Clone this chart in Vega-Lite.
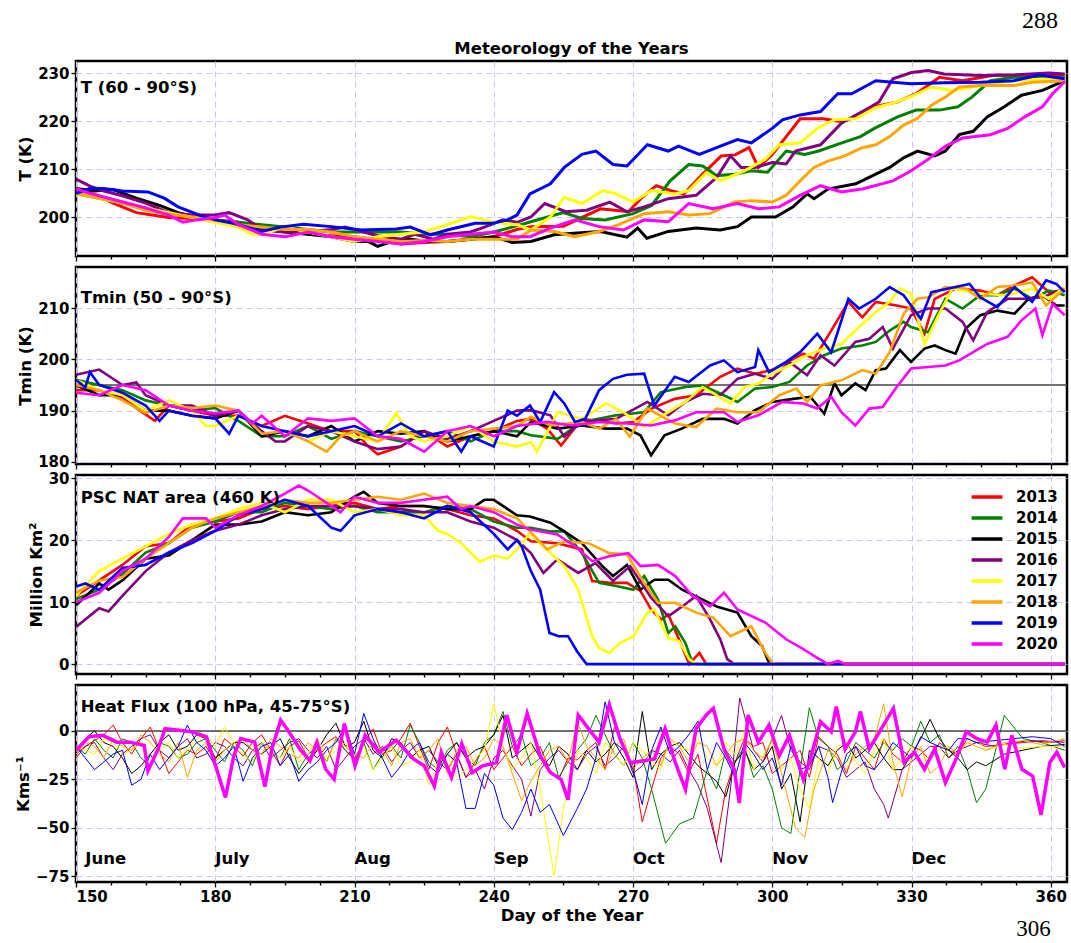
{
"$schema":"https://vega.github.io/schema/vega-lite/v6.json",
"padding":{"left":14,"top":9,"right":2,"bottom":0},
"spacing":11,
"bounds":"flush",
"title":{"text":"288","anchor":"end","font":"Liberation Serif","fontSize":24,"fontWeight":"normal","color":"#000","offset":6,"dx":-11},
"config":{
 "font":"DejaVu Sans",
 "view":{"stroke":"#000","strokeWidth":2.5},
 "axis":{"labelFont":"DejaVu Sans","labelFontWeight":"bold","labelFontSize":15,"labelColor":"#000","titleFont":"DejaVu Sans","titleFontWeight":"bold","titleFontSize":16.5,"titleColor":"#000","tickColor":"#000","tickWidth":1.3,"tickSize":5,"domain":false,"grid":true,"gridColor":"#c8c8ee","gridDash":[6,4],"gridWidth":1,"labelPadding":2,"titlePadding":4}
},
"resolve":{"legend":{"color":"independent"}},
"datasets":{
"t":[
{"d":150,"y":2013,"v":206},{"d":155,"y":2013,"v":204.5},{"d":158,"y":2013,"v":203},{"d":163,"y":2013,"v":201},{"d":170,"y":2013,"v":200},{"d":175,"y":2013,"v":199.8},{"d":180,"y":2013,"v":199.5},{"d":185,"y":2013,"v":199},{"d":190,"y":2013,"v":198},{"d":195,"y":2013,"v":197.5},{"d":200,"y":2013,"v":196.5},{"d":205,"y":2013,"v":196.2},{"d":210,"y":2013,"v":196},{"d":215,"y":2013,"v":195.3},{"d":220,"y":2013,"v":194.5},{"d":225,"y":2013,"v":194.8},{"d":230,"y":2013,"v":195},{"d":235,"y":2013,"v":195.5},{"d":240,"y":2013,"v":196},{"d":245,"y":2013,"v":197.5},{"d":248,"y":2013,"v":198.1},{"d":255,"y":2013,"v":198.2},{"d":263,"y":2013,"v":201.8},{"d":269,"y":2013,"v":201.2},{"d":272,"y":2013,"v":204.2},{"d":275,"y":2013,"v":206.6},{"d":278,"y":2013,"v":205.6},{"d":281,"y":2013,"v":204.9},{"d":285,"y":2013,"v":209},{"d":289,"y":2013,"v":212.8},{"d":292,"y":2013,"v":213},{"d":295,"y":2013,"v":214.5},{"d":297,"y":2013,"v":210.4},{"d":300,"y":2013,"v":213.1},{"d":303,"y":2013,"v":216.8},{"d":306,"y":2013,"v":220.5},{"d":311,"y":2013,"v":220.5},{"d":315,"y":2013,"v":219.9},{"d":319,"y":2013,"v":221.3},{"d":322,"y":2013,"v":223},{"d":327,"y":2013,"v":224},{"d":331,"y":2013,"v":225.7},{"d":336,"y":2013,"v":229.1},{"d":341,"y":2013,"v":228.4},{"d":348,"y":2013,"v":229.6},{"d":356,"y":2013,"v":229.5},{"d":363,"y":2013,"v":229.6},
{"d":150,"y":2014,"v":205},{"d":155,"y":2014,"v":204},{"d":160,"y":2014,"v":203},{"d":165,"y":2014,"v":202},{"d":170,"y":2014,"v":201},{"d":175,"y":2014,"v":200.3},{"d":180,"y":2014,"v":199.5},{"d":185,"y":2014,"v":199},{"d":190,"y":2014,"v":198.5},{"d":195,"y":2014,"v":198},{"d":200,"y":2014,"v":197.5},{"d":205,"y":2014,"v":197},{"d":210,"y":2014,"v":197},{"d":215,"y":2014,"v":197},{"d":220,"y":2014,"v":197},{"d":225,"y":2014,"v":196.5},{"d":230,"y":2014,"v":196.5},{"d":235,"y":2014,"v":196},{"d":240,"y":2014,"v":197},{"d":244,"y":2014,"v":198},{"d":248,"y":2014,"v":199.1},{"d":255,"y":2014,"v":201},{"d":259,"y":2014,"v":199.8},{"d":264,"y":2014,"v":199.5},{"d":270,"y":2014,"v":200.8},{"d":274,"y":2014,"v":202.5},{"d":278,"y":2014,"v":207.6},{"d":282,"y":2014,"v":211},{"d":285,"y":2014,"v":210.7},{"d":288,"y":2014,"v":208.7},{"d":292,"y":2014,"v":209},{"d":295.5,"y":2014,"v":209.7},{"d":299,"y":2014,"v":209.4},{"d":303,"y":2014,"v":213.8},{"d":307,"y":2014,"v":213.1},{"d":310,"y":2014,"v":213.8},{"d":315,"y":2014,"v":215.5},{"d":319,"y":2014,"v":216.8},{"d":322,"y":2014,"v":218.5},{"d":327,"y":2014,"v":220.9},{"d":331,"y":2014,"v":222.3},{"d":336,"y":2014,"v":222.3},{"d":340,"y":2014,"v":223},{"d":343,"y":2014,"v":225},{"d":347,"y":2014,"v":228.4},{"d":352,"y":2014,"v":229.1},{"d":360,"y":2014,"v":229.1},{"d":363,"y":2014,"v":229.1},
{"d":150,"y":2015,"v":206},{"d":154,"y":2015,"v":205.5},{"d":158,"y":2015,"v":205.8},{"d":163,"y":2015,"v":204},{"d":168,"y":2015,"v":202.5},{"d":172,"y":2015,"v":201},{"d":176,"y":2015,"v":200},{"d":180,"y":2015,"v":199.5},{"d":185,"y":2015,"v":198.5},{"d":190,"y":2015,"v":197.5},{"d":195,"y":2015,"v":197},{"d":200,"y":2015,"v":196.5},{"d":205,"y":2015,"v":196},{"d":210,"y":2015,"v":195},{"d":213,"y":2015,"v":195},{"d":215,"y":2015,"v":194},{"d":218,"y":2015,"v":195},{"d":222,"y":2015,"v":195.5},{"d":226,"y":2015,"v":195},{"d":230,"y":2015,"v":195},{"d":235,"y":2015,"v":195.5},{"d":240,"y":2015,"v":196},{"d":244,"y":2015,"v":194.8},{"d":248,"y":2015,"v":195},{"d":253,"y":2015,"v":196.4},{"d":258,"y":2015,"v":196.8},{"d":263,"y":2015,"v":197.1},{"d":268.7,"y":2015,"v":195.9},{"d":271,"y":2015,"v":197.8},{"d":273,"y":2015,"v":195.7},{"d":277.6,"y":2015,"v":197.1},{"d":283.6,"y":2015,"v":197.8},{"d":288.8,"y":2015,"v":197.4},{"d":292.5,"y":2015,"v":198.1},{"d":295.5,"y":2015,"v":200.1},{"d":300.7,"y":2015,"v":200.1},{"d":304.5,"y":2015,"v":202.2},{"d":307.5,"y":2015,"v":204.9},{"d":309,"y":2015,"v":203.9},{"d":312,"y":2015,"v":205.9},{"d":318,"y":2015,"v":207},{"d":322.3,"y":2015,"v":209},{"d":325.3,"y":2015,"v":210.4},{"d":328.3,"y":2015,"v":212.4},{"d":331.3,"y":2015,"v":213.8},{"d":335,"y":2015,"v":212.8},{"d":337.3,"y":2015,"v":213.8},{"d":340.3,"y":2015,"v":217.2},{"d":343.3,"y":2015,"v":217.9},{"d":346.3,"y":2015,"v":220.9},{"d":350,"y":2015,"v":223},{"d":353.7,"y":2015,"v":225.4},{"d":358.2,"y":2015,"v":226.4},{"d":363,"y":2015,"v":228.4},
{"d":150,"y":2016,"v":208},{"d":153,"y":2016,"v":206.5},{"d":156,"y":2016,"v":205.5},{"d":160,"y":2016,"v":204.5},{"d":165,"y":2016,"v":203},{"d":170,"y":2016,"v":201},{"d":175,"y":2016,"v":200.5},{"d":180,"y":2016,"v":200.5},{"d":183,"y":2016,"v":201},{"d":187,"y":2016,"v":199.5},{"d":190,"y":2016,"v":197.5},{"d":195,"y":2016,"v":197},{"d":200,"y":2016,"v":197},{"d":205,"y":2016,"v":197.5},{"d":208,"y":2016,"v":198},{"d":210,"y":2016,"v":197.5},{"d":215,"y":2016,"v":196.2},{"d":220,"y":2016,"v":195.5},{"d":223,"y":2016,"v":196.5},{"d":227,"y":2016,"v":195.5},{"d":230,"y":2016,"v":196.5},{"d":235,"y":2016,"v":197},{"d":238,"y":2016,"v":198},{"d":242,"y":2016,"v":199.5},{"d":245,"y":2016,"v":199},{"d":248,"y":2016,"v":200.1},{"d":251,"y":2016,"v":202.9},{"d":255.5,"y":2016,"v":201.2},{"d":260,"y":2016,"v":201.5},{"d":265,"y":2016,"v":203.2},{"d":268.7,"y":2016,"v":201.2},{"d":272.4,"y":2016,"v":202.2},{"d":277.6,"y":2016,"v":203.9},{"d":283.6,"y":2016,"v":204.6},{"d":288,"y":2016,"v":208.3},{"d":291,"y":2016,"v":212.8},{"d":293.3,"y":2016,"v":210.4},{"d":296.3,"y":2016,"v":210.4},{"d":300,"y":2016,"v":211.4},{"d":303,"y":2016,"v":211.1},{"d":305,"y":2016,"v":213.8},{"d":310.4,"y":2016,"v":215.1},{"d":314.9,"y":2016,"v":219.6},{"d":319.4,"y":2016,"v":222},{"d":323,"y":2016,"v":224},{"d":326,"y":2016,"v":228.8},{"d":330,"y":2016,"v":230.1},{"d":333.6,"y":2016,"v":230.5},{"d":337,"y":2016,"v":229.8},{"d":344.8,"y":2016,"v":229.5},{"d":352,"y":2016,"v":229.6},{"d":359.6,"y":2016,"v":230},{"d":363,"y":2016,"v":229.8},
{"d":150,"y":2017,"v":205},{"d":155,"y":2017,"v":204},{"d":160,"y":2017,"v":203},{"d":165,"y":2017,"v":202},{"d":170,"y":2017,"v":201},{"d":175,"y":2017,"v":200},{"d":180,"y":2017,"v":199},{"d":185,"y":2017,"v":198},{"d":188,"y":2017,"v":196.5},{"d":190,"y":2017,"v":196.5},{"d":195,"y":2017,"v":198},{"d":200,"y":2017,"v":197},{"d":205,"y":2017,"v":196},{"d":210,"y":2017,"v":195},{"d":215,"y":2017,"v":196},{"d":220,"y":2017,"v":196.5},{"d":225,"y":2017,"v":197},{"d":230,"y":2017,"v":198.5},{"d":233,"y":2017,"v":199.5},{"d":235,"y":2017,"v":200.2},{"d":238,"y":2017,"v":199.5},{"d":240,"y":2017,"v":199},{"d":245,"y":2017,"v":198.5},{"d":248,"y":2017,"v":197.4},{"d":252.2,"y":2017,"v":200.1},{"d":255.2,"y":2017,"v":204.2},{"d":259,"y":2017,"v":202.9},{"d":263.5,"y":2017,"v":205.6},{"d":266.4,"y":2017,"v":204.9},{"d":270,"y":2017,"v":203.2},{"d":274,"y":2017,"v":205.6},{"d":279,"y":2017,"v":204.9},{"d":282,"y":2017,"v":205.6},{"d":285.8,"y":2017,"v":209.3},{"d":288.8,"y":2017,"v":207.6},{"d":294,"y":2017,"v":209.7},{"d":298.5,"y":2017,"v":212.1},{"d":301.5,"y":2017,"v":215.1},{"d":306,"y":2017,"v":215.5},{"d":309.7,"y":2017,"v":218.5},{"d":313.4,"y":2017,"v":220.3},{"d":317.9,"y":2017,"v":220.5},{"d":322.3,"y":2017,"v":222.8},{"d":326.8,"y":2017,"v":224},{"d":330.6,"y":2017,"v":225.4},{"d":334.3,"y":2017,"v":227.1},{"d":338.8,"y":2017,"v":226.4},{"d":344.8,"y":2017,"v":227.4},{"d":352,"y":2017,"v":228.4},{"d":359.6,"y":2017,"v":228.8},{"d":363,"y":2017,"v":228.9},
{"d":150,"y":2018,"v":205},{"d":155,"y":2018,"v":204},{"d":160,"y":2018,"v":203},{"d":165,"y":2018,"v":201.5},{"d":168,"y":2018,"v":201},{"d":172,"y":2018,"v":200.5},{"d":176,"y":2018,"v":200},{"d":180,"y":2018,"v":199.5},{"d":185,"y":2018,"v":198.5},{"d":190,"y":2018,"v":198},{"d":195,"y":2018,"v":197.5},{"d":200,"y":2018,"v":197.5},{"d":205,"y":2018,"v":197},{"d":210,"y":2018,"v":196},{"d":215,"y":2018,"v":195.5},{"d":220,"y":2018,"v":195},{"d":225,"y":2018,"v":195.2},{"d":230,"y":2018,"v":195},{"d":235,"y":2018,"v":195.5},{"d":240,"y":2018,"v":195.5},{"d":245,"y":2018,"v":195.5},{"d":248,"y":2018,"v":197.4},{"d":253,"y":2018,"v":197.1},{"d":257.5,"y":2018,"v":196},{"d":262.7,"y":2018,"v":197.1},{"d":267.2,"y":2018,"v":198.6},{"d":272.4,"y":2018,"v":200.8},{"d":277.6,"y":2018,"v":201.2},{"d":282,"y":2018,"v":200.5},{"d":286.6,"y":2018,"v":200.8},{"d":291.8,"y":2018,"v":203.2},{"d":295.5,"y":2018,"v":203.5},{"d":300,"y":2018,"v":203.2},{"d":303,"y":2018,"v":204.6},{"d":306.7,"y":2018,"v":208.3},{"d":309,"y":2018,"v":210.4},{"d":312,"y":2018,"v":211.7},{"d":315.6,"y":2018,"v":212.8},{"d":319.4,"y":2018,"v":214.5},{"d":322.3,"y":2018,"v":215.1},{"d":325.3,"y":2018,"v":216.8},{"d":328.3,"y":2018,"v":219.2},{"d":331.3,"y":2018,"v":220.6},{"d":334.3,"y":2018,"v":223.3},{"d":337.3,"y":2018,"v":225},{"d":340.3,"y":2018,"v":227.1},{"d":344.8,"y":2018,"v":227.4},{"d":352,"y":2018,"v":227.4},{"d":356,"y":2018,"v":228.1},{"d":363,"y":2018,"v":228.4},
{"d":150,"y":2019,"v":205},{"d":153,"y":2019,"v":206},{"d":156,"y":2019,"v":206},{"d":160,"y":2019,"v":205.5},{"d":165.5,"y":2019,"v":205.3},{"d":169,"y":2019,"v":204},{"d":172,"y":2019,"v":202.2},{"d":176.6,"y":2019,"v":200.5},{"d":180,"y":2019,"v":199.5},{"d":184,"y":2019,"v":198.8},{"d":190,"y":2019,"v":197.1},{"d":194,"y":2019,"v":198},{"d":199,"y":2019,"v":198.6},{"d":205,"y":2019,"v":198.1},{"d":211.6,"y":2019,"v":197.4},{"d":215,"y":2019,"v":197.5},{"d":219,"y":2019,"v":197.6},{"d":222,"y":2019,"v":198},{"d":226.4,"y":2019,"v":196.4},{"d":230,"y":2019,"v":197.4},{"d":236,"y":2019,"v":198.8},{"d":239.8,"y":2019,"v":198.8},{"d":243,"y":2019,"v":199.5},{"d":245,"y":2019,"v":200.5},{"d":247.8,"y":2019,"v":204.9},{"d":252.2,"y":2019,"v":207},{"d":255.2,"y":2019,"v":210.4},{"d":259,"y":2019,"v":213.1},{"d":262,"y":2019,"v":213.8},{"d":265.7,"y":2019,"v":211},{"d":268.7,"y":2019,"v":210.7},{"d":273.1,"y":2019,"v":215.1},{"d":277.6,"y":2019,"v":213.8},{"d":279.8,"y":2019,"v":214.8},{"d":284.3,"y":2019,"v":213.1},{"d":288,"y":2019,"v":214.5},{"d":292.5,"y":2019,"v":216.2},{"d":295.5,"y":2019,"v":215.5},{"d":300,"y":2019,"v":218.5},{"d":302.2,"y":2019,"v":220.3},{"d":306,"y":2019,"v":221.3},{"d":310.4,"y":2019,"v":222},{"d":314.1,"y":2019,"v":225.7},{"d":317.1,"y":2019,"v":225.7},{"d":322.3,"y":2019,"v":228.4},{"d":326,"y":2019,"v":228.1},{"d":329.9,"y":2019,"v":227.8},{"d":337,"y":2019,"v":228},{"d":344.8,"y":2019,"v":228.1},{"d":352,"y":2019,"v":228.4},{"d":357.5,"y":2019,"v":229.6},{"d":363,"y":2019,"v":228.8},
{"d":150,"y":2020,"v":206},{"d":153,"y":2020,"v":205},{"d":157,"y":2020,"v":204},{"d":161,"y":2020,"v":203},{"d":165,"y":2020,"v":202},{"d":170,"y":2020,"v":200.5},{"d":173,"y":2020,"v":199},{"d":176,"y":2020,"v":199.5},{"d":180,"y":2020,"v":200},{"d":182,"y":2020,"v":200.5},{"d":185,"y":2020,"v":198.5},{"d":190,"y":2020,"v":196.5},{"d":195,"y":2020,"v":196},{"d":200,"y":2020,"v":197},{"d":205,"y":2020,"v":196},{"d":210,"y":2020,"v":195.5},{"d":215,"y":2020,"v":195},{"d":220,"y":2020,"v":194.5},{"d":225,"y":2020,"v":195},{"d":230,"y":2020,"v":196},{"d":235,"y":2020,"v":196.5},{"d":240,"y":2020,"v":197},{"d":244,"y":2020,"v":196},{"d":247.8,"y":2020,"v":196},{"d":252.2,"y":2020,"v":197.8},{"d":257.5,"y":2020,"v":199.5},{"d":262.7,"y":2020,"v":198.1},{"d":267.9,"y":2020,"v":197.4},{"d":272.4,"y":2020,"v":199.5},{"d":277.6,"y":2020,"v":199.1},{"d":282,"y":2020,"v":202.9},{"d":287.2,"y":2020,"v":201.8},{"d":292.5,"y":2020,"v":202.9},{"d":297,"y":2020,"v":201.8},{"d":301.5,"y":2020,"v":202.2},{"d":306,"y":2020,"v":204.6},{"d":310.4,"y":2020,"v":206.6},{"d":314.9,"y":2020,"v":205.3},{"d":319.4,"y":2020,"v":205.9},{"d":326,"y":2020,"v":207.6},{"d":329.9,"y":2020,"v":209.7},{"d":333.6,"y":2020,"v":212.1},{"d":337.3,"y":2020,"v":214.8},{"d":341,"y":2020,"v":216.5},{"d":347,"y":2020,"v":217.2},{"d":350.7,"y":2020,"v":218.5},{"d":354.4,"y":2020,"v":220.9},{"d":358.2,"y":2020,"v":223},{"d":360.4,"y":2020,"v":225.7},{"d":363,"y":2020,"v":228.2}
],
"tmin":[
{"d":150,"y":2013,"v":194},{"d":155,"y":2013,"v":194},{"d":160,"y":2013,"v":192.5},{"d":163,"y":2013,"v":190.5},{"d":167,"y":2013,"v":188},{"d":170,"y":2013,"v":191},{"d":175,"y":2013,"v":190},{"d":180,"y":2013,"v":189},{"d":185,"y":2013,"v":189},{"d":190,"y":2013,"v":187},{"d":195,"y":2013,"v":189},{"d":200,"y":2013,"v":187.5},{"d":205,"y":2013,"v":186},{"d":210,"y":2013,"v":186},{"d":213,"y":2013,"v":183},{"d":215,"y":2013,"v":181.5},{"d":220,"y":2013,"v":183},{"d":225,"y":2013,"v":186},{"d":230,"y":2013,"v":183},{"d":235,"y":2013,"v":185},{"d":240,"y":2013,"v":186},{"d":245,"y":2013,"v":188},{"d":248,"y":2013,"v":188.4},{"d":251.5,"y":2013,"v":186.5},{"d":254.5,"y":2013,"v":183.2},{"d":259,"y":2013,"v":188.4},{"d":266.4,"y":2013,"v":187.5},{"d":270,"y":2013,"v":187.8},{"d":274,"y":2013,"v":190.4},{"d":279,"y":2013,"v":192.3},{"d":283.6,"y":2013,"v":193},{"d":288.8,"y":2013,"v":196.6},{"d":292.5,"y":2013,"v":198.2},{"d":296.3,"y":2013,"v":197.2},{"d":300,"y":2013,"v":197.9},{"d":306.7,"y":2013,"v":201.1},{"d":309,"y":2013,"v":200.1},{"d":312.7,"y":2013,"v":205.6},{"d":316.4,"y":2013,"v":211.2},{"d":319.4,"y":2013,"v":208.2},{"d":322.3,"y":2013,"v":211.2},{"d":326.8,"y":2013,"v":210.5},{"d":329.9,"y":2013,"v":209.9},{"d":332.8,"y":2013,"v":205},{"d":335,"y":2013,"v":211.8},{"d":339.5,"y":2013,"v":213.8},{"d":344.8,"y":2013,"v":213.4},{"d":348.5,"y":2013,"v":212.5},{"d":352.2,"y":2013,"v":214.4},{"d":356,"y":2013,"v":216},{"d":359.6,"y":2013,"v":213.1},{"d":363,"y":2013,"v":213.4},
{"d":150,"y":2014,"v":196},{"d":155,"y":2014,"v":195},{"d":160,"y":2014,"v":194},{"d":165,"y":2014,"v":192},{"d":170,"y":2014,"v":191},{"d":175,"y":2014,"v":190},{"d":180,"y":2014,"v":190.5},{"d":185,"y":2014,"v":188},{"d":190,"y":2014,"v":185},{"d":195,"y":2014,"v":185},{"d":200,"y":2014,"v":187},{"d":205,"y":2014,"v":184.5},{"d":210,"y":2014,"v":186},{"d":215,"y":2014,"v":185},{"d":220,"y":2014,"v":184},{"d":225,"y":2014,"v":185},{"d":230,"y":2014,"v":186},{"d":235,"y":2014,"v":184},{"d":240,"y":2014,"v":186},{"d":245,"y":2014,"v":186},{"d":248,"y":2014,"v":185.2},{"d":253.8,"y":2014,"v":184.5},{"d":259,"y":2014,"v":187.8},{"d":266.4,"y":2014,"v":189.1},{"d":272.4,"y":2014,"v":189.7},{"d":276,"y":2014,"v":193.6},{"d":281.3,"y":2014,"v":194.6},{"d":285,"y":2014,"v":194.9},{"d":289.6,"y":2014,"v":193},{"d":292.5,"y":2014,"v":191.7},{"d":296.3,"y":2014,"v":194.3},{"d":300,"y":2014,"v":194.6},{"d":303.7,"y":2014,"v":195.6},{"d":307.5,"y":2014,"v":198.8},{"d":311.2,"y":2014,"v":200.8},{"d":314.9,"y":2014,"v":202.1},{"d":319.4,"y":2014,"v":202.7},{"d":322.3,"y":2014,"v":203.4},{"d":325.3,"y":2014,"v":205.6},{"d":328.3,"y":2014,"v":207.3},{"d":329.9,"y":2014,"v":206.3},{"d":333.6,"y":2014,"v":205.3},{"d":337.3,"y":2014,"v":211.8},{"d":341,"y":2014,"v":209.9},{"d":344.8,"y":2014,"v":212.5},{"d":348.5,"y":2014,"v":212.5},{"d":352.2,"y":2014,"v":213.8},{"d":356,"y":2014,"v":211.8},{"d":359.6,"y":2014,"v":213.4},{"d":363,"y":2014,"v":212.5},
{"d":150,"y":2015,"v":195},{"d":155,"y":2015,"v":193},{"d":160,"y":2015,"v":193},{"d":165,"y":2015,"v":190},{"d":170,"y":2015,"v":190},{"d":175,"y":2015,"v":189},{"d":180,"y":2015,"v":188.5},{"d":185,"y":2015,"v":190},{"d":190,"y":2015,"v":185},{"d":195,"y":2015,"v":186},{"d":200,"y":2015,"v":185},{"d":205,"y":2015,"v":187},{"d":210,"y":2015,"v":184},{"d":215,"y":2015,"v":186},{"d":220,"y":2015,"v":185.5},{"d":225,"y":2015,"v":186},{"d":230,"y":2015,"v":184},{"d":235,"y":2015,"v":185},{"d":240,"y":2015,"v":186},{"d":245,"y":2015,"v":185},{"d":248,"y":2015,"v":187.8},{"d":253.8,"y":2015,"v":186.5},{"d":259,"y":2015,"v":187.1},{"d":264.2,"y":2015,"v":186.5},{"d":268.7,"y":2015,"v":186.5},{"d":271.6,"y":2015,"v":185.2},{"d":273.9,"y":2015,"v":181.3},{"d":276.8,"y":2015,"v":185.2},{"d":280.5,"y":2015,"v":186.5},{"d":285,"y":2015,"v":188.4},{"d":289.6,"y":2015,"v":188.4},{"d":292.5,"y":2015,"v":187.5},{"d":296.3,"y":2015,"v":190.1},{"d":300,"y":2015,"v":191.7},{"d":304.5,"y":2015,"v":192.3},{"d":308.2,"y":2015,"v":192.7},{"d":311.2,"y":2015,"v":189.4},{"d":313.4,"y":2015,"v":195.3},{"d":314.9,"y":2015,"v":193},{"d":317.9,"y":2015,"v":195.3},{"d":320.1,"y":2015,"v":194},{"d":322.3,"y":2015,"v":197.9},{"d":324.5,"y":2015,"v":198.2},{"d":327.5,"y":2015,"v":201.8},{"d":329.9,"y":2015,"v":199.5},{"d":332.8,"y":2015,"v":202.1},{"d":335,"y":2015,"v":202.7},{"d":337.3,"y":2015,"v":201.8},{"d":339.5,"y":2015,"v":201.1},{"d":341.7,"y":2015,"v":206},{"d":344.8,"y":2015,"v":208.6},{"d":348.5,"y":2015,"v":209.5},{"d":352.2,"y":2015,"v":208.9},{"d":355.2,"y":2015,"v":211.8},{"d":358.2,"y":2015,"v":212.5},{"d":361.2,"y":2015,"v":210.5},{"d":363,"y":2015,"v":210.5},
{"d":150,"y":2016,"v":197},{"d":155,"y":2016,"v":198},{"d":160,"y":2016,"v":195},{"d":163,"y":2016,"v":195.5},{"d":165,"y":2016,"v":193},{"d":170,"y":2016,"v":191},{"d":175,"y":2016,"v":191},{"d":180,"y":2016,"v":189},{"d":185,"y":2016,"v":190},{"d":190,"y":2016,"v":186},{"d":193,"y":2016,"v":184},{"d":195,"y":2016,"v":184},{"d":200,"y":2016,"v":187},{"d":205,"y":2016,"v":186},{"d":210,"y":2016,"v":184},{"d":215,"y":2016,"v":182.5},{"d":220,"y":2016,"v":183},{"d":225,"y":2016,"v":186},{"d":230,"y":2016,"v":184.5},{"d":235,"y":2016,"v":186},{"d":240,"y":2016,"v":188},{"d":245,"y":2016,"v":190},{"d":248,"y":2016,"v":190.1},{"d":252.2,"y":2016,"v":189.1},{"d":255.2,"y":2016,"v":184.9},{"d":259,"y":2016,"v":187.8},{"d":266.4,"y":2016,"v":188.4},{"d":273.1,"y":2016,"v":191.7},{"d":277.6,"y":2016,"v":189.1},{"d":281.3,"y":2016,"v":191.7},{"d":285,"y":2016,"v":193.3},{"d":288.8,"y":2016,"v":193},{"d":292.5,"y":2016,"v":196.2},{"d":296.3,"y":2016,"v":197.2},{"d":300,"y":2016,"v":196.2},{"d":303.7,"y":2016,"v":199.5},{"d":307.5,"y":2016,"v":196.9},{"d":310.4,"y":2016,"v":200.8},{"d":313.4,"y":2016,"v":198.8},{"d":317.9,"y":2016,"v":203.4},{"d":320.9,"y":2016,"v":204},{"d":323.8,"y":2016,"v":206.3},{"d":326,"y":2016,"v":202.1},{"d":329.9,"y":2016,"v":208.6},{"d":333.6,"y":2016,"v":209.9},{"d":337.3,"y":2016,"v":209.9},{"d":341,"y":2016,"v":207.3},{"d":343.3,"y":2016,"v":203.7},{"d":346.3,"y":2016,"v":209.2},{"d":350.7,"y":2016,"v":211.8},{"d":354.4,"y":2016,"v":211.8},{"d":358.2,"y":2016,"v":212.1},{"d":363,"y":2016,"v":213.8},
{"d":150,"y":2017,"v":196},{"d":155,"y":2017,"v":194},{"d":160,"y":2017,"v":193},{"d":165,"y":2017,"v":190},{"d":170,"y":2017,"v":192},{"d":175,"y":2017,"v":190},{"d":178,"y":2017,"v":187},{"d":180,"y":2017,"v":187},{"d":185,"y":2017,"v":189},{"d":190,"y":2017,"v":187},{"d":195,"y":2017,"v":186},{"d":200,"y":2017,"v":184},{"d":205,"y":2017,"v":186},{"d":210,"y":2017,"v":185},{"d":215,"y":2017,"v":184},{"d":219,"y":2017,"v":189.5},{"d":222,"y":2017,"v":185},{"d":225,"y":2017,"v":184},{"d":230,"y":2017,"v":185},{"d":235,"y":2017,"v":187},{"d":240,"y":2017,"v":184},{"d":245,"y":2017,"v":183},{"d":248,"y":2017,"v":183.9},{"d":249.3,"y":2017,"v":182},{"d":253.8,"y":2017,"v":189.7},{"d":259,"y":2017,"v":188.4},{"d":264.2,"y":2017,"v":191.4},{"d":267.9,"y":2017,"v":189.7},{"d":272.4,"y":2017,"v":186.8},{"d":277.6,"y":2017,"v":189.7},{"d":281.3,"y":2017,"v":191.7},{"d":285,"y":2017,"v":194.6},{"d":288,"y":2017,"v":193},{"d":291,"y":2017,"v":191.4},{"d":294,"y":2017,"v":194.6},{"d":297,"y":2017,"v":195.3},{"d":300,"y":2017,"v":197.2},{"d":303.7,"y":2017,"v":198.8},{"d":307.5,"y":2017,"v":200.8},{"d":311.2,"y":2017,"v":202.1},{"d":314.9,"y":2017,"v":203},{"d":318.7,"y":2017,"v":206.3},{"d":322.3,"y":2017,"v":209.2},{"d":325.3,"y":2017,"v":211.2},{"d":327.5,"y":2017,"v":213.8},{"d":329.9,"y":2017,"v":212.8},{"d":332.8,"y":2017,"v":203},{"d":335.8,"y":2017,"v":208.6},{"d":338.8,"y":2017,"v":213.8},{"d":344.8,"y":2017,"v":212.8},{"d":350.7,"y":2017,"v":212.5},{"d":356,"y":2017,"v":213.8},{"d":359.6,"y":2017,"v":211.8},{"d":363,"y":2017,"v":214.1},
{"d":150,"y":2018,"v":195},{"d":155,"y":2018,"v":194},{"d":160,"y":2018,"v":192},{"d":165,"y":2018,"v":189.5},{"d":170,"y":2018,"v":191},{"d":175,"y":2018,"v":190.5},{"d":180,"y":2018,"v":191},{"d":185,"y":2018,"v":190},{"d":190,"y":2018,"v":185.5},{"d":195,"y":2018,"v":186},{"d":200,"y":2018,"v":184},{"d":204,"y":2018,"v":182},{"d":207,"y":2018,"v":185},{"d":210,"y":2018,"v":186},{"d":215,"y":2018,"v":184},{"d":220,"y":2018,"v":186},{"d":225,"y":2018,"v":185},{"d":230,"y":2018,"v":184},{"d":235,"y":2018,"v":186},{"d":240,"y":2018,"v":186.5},{"d":245,"y":2018,"v":187},{"d":248,"y":2018,"v":188.8},{"d":252.2,"y":2018,"v":187.1},{"d":259,"y":2018,"v":187.8},{"d":262.7,"y":2018,"v":186.5},{"d":266.4,"y":2018,"v":188.4},{"d":269.3,"y":2018,"v":184.9},{"d":273.1,"y":2018,"v":190.4},{"d":279,"y":2018,"v":187.5},{"d":283.6,"y":2018,"v":186.8},{"d":288,"y":2018,"v":190.4},{"d":292.5,"y":2018,"v":189.7},{"d":297,"y":2018,"v":189.7},{"d":301.5,"y":2018,"v":193},{"d":305.2,"y":2018,"v":194.3},{"d":307.5,"y":2018,"v":191.7},{"d":310.4,"y":2018,"v":194.9},{"d":314.9,"y":2018,"v":195.9},{"d":319.4,"y":2018,"v":197.9},{"d":322.3,"y":2018,"v":197.2},{"d":325.3,"y":2018,"v":201.4},{"d":328.3,"y":2018,"v":208.9},{"d":331.3,"y":2018,"v":211.8},{"d":333.6,"y":2018,"v":212.1},{"d":337.3,"y":2018,"v":214.1},{"d":341.7,"y":2018,"v":213.8},{"d":344.8,"y":2018,"v":211.8},{"d":348.5,"y":2018,"v":214.1},{"d":352.2,"y":2018,"v":214.4},{"d":356,"y":2018,"v":215},{"d":359,"y":2018,"v":210.5},{"d":363,"y":2018,"v":213.8},
{"d":150,"y":2019,"v":196},{"d":152,"y":2019,"v":194.5},{"d":153,"y":2019,"v":197.5},{"d":155,"y":2019,"v":195},{"d":160,"y":2019,"v":193.5},{"d":165,"y":2019,"v":191},{"d":168,"y":2019,"v":188},{"d":170,"y":2019,"v":190},{"d":175,"y":2019,"v":189},{"d":180,"y":2019,"v":188.5},{"d":183,"y":2019,"v":185.5},{"d":185,"y":2019,"v":189},{"d":190,"y":2019,"v":187},{"d":195,"y":2019,"v":186},{"d":200,"y":2019,"v":185},{"d":205,"y":2019,"v":186},{"d":210,"y":2019,"v":187},{"d":215,"y":2019,"v":185},{"d":218,"y":2019,"v":186.5},{"d":220,"y":2019,"v":187.5},{"d":225,"y":2019,"v":185},{"d":230,"y":2019,"v":186},{"d":233,"y":2019,"v":182},{"d":235,"y":2019,"v":185},{"d":240,"y":2019,"v":183},{"d":243,"y":2019,"v":190},{"d":245,"y":2019,"v":189},{"d":247.8,"y":2019,"v":191},{"d":250,"y":2019,"v":187.8},{"d":253,"y":2019,"v":193.6},{"d":255.2,"y":2019,"v":191.4},{"d":257.5,"y":2019,"v":187.8},{"d":259.7,"y":2019,"v":188.4},{"d":262.7,"y":2019,"v":194},{"d":265.7,"y":2019,"v":196.2},{"d":268.7,"y":2019,"v":197},{"d":272.4,"y":2019,"v":197.2},{"d":274.6,"y":2019,"v":191},{"d":279,"y":2019,"v":196.6},{"d":282,"y":2019,"v":195.6},{"d":286.6,"y":2019,"v":198.8},{"d":289.6,"y":2019,"v":199.8},{"d":292.5,"y":2019,"v":197.5},{"d":296.3,"y":2019,"v":198.5},{"d":297,"y":2019,"v":201.8},{"d":299.3,"y":2019,"v":197.5},{"d":303,"y":2019,"v":199.5},{"d":306,"y":2019,"v":201.4},{"d":309.7,"y":2019,"v":205},{"d":312.7,"y":2019,"v":201.4},{"d":316.4,"y":2019,"v":211.8},{"d":318.7,"y":2019,"v":209.9},{"d":322.3,"y":2019,"v":211.8},{"d":325.3,"y":2019,"v":214.1},{"d":328.3,"y":2019,"v":212.5},{"d":332,"y":2019,"v":207.9},{"d":334.3,"y":2019,"v":213.1},{"d":338,"y":2019,"v":213.8},{"d":342.5,"y":2019,"v":214.7},{"d":344.8,"y":2019,"v":212.1},{"d":348.5,"y":2019,"v":210.2},{"d":352.2,"y":2019,"v":214.1},{"d":356,"y":2019,"v":211.2},{"d":359,"y":2019,"v":215.4},{"d":361.2,"y":2019,"v":214.7},{"d":363,"y":2019,"v":213.1},
{"d":150,"y":2020,"v":193.5},{"d":155,"y":2020,"v":193},{"d":160,"y":2020,"v":195},{"d":165,"y":2020,"v":194},{"d":170,"y":2020,"v":191},{"d":175,"y":2020,"v":190},{"d":180,"y":2020,"v":189.5},{"d":185,"y":2020,"v":190},{"d":188,"y":2020,"v":187.5},{"d":190,"y":2020,"v":189},{"d":195,"y":2020,"v":185},{"d":200,"y":2020,"v":188.5},{"d":205,"y":2020,"v":188},{"d":210,"y":2020,"v":188.5},{"d":215,"y":2020,"v":185},{"d":220,"y":2020,"v":184.5},{"d":225,"y":2020,"v":182},{"d":230,"y":2020,"v":186},{"d":235,"y":2020,"v":187},{"d":240,"y":2020,"v":185},{"d":245,"y":2020,"v":187},{"d":251.5,"y":2020,"v":187.8},{"d":256.8,"y":2020,"v":187.1},{"d":262.7,"y":2020,"v":187.8},{"d":268.7,"y":2020,"v":187.5},{"d":273.9,"y":2020,"v":187.1},{"d":279,"y":2020,"v":188.1},{"d":283.6,"y":2020,"v":189.7},{"d":289.6,"y":2020,"v":189.7},{"d":292.5,"y":2020,"v":187.8},{"d":297,"y":2020,"v":189.1},{"d":302.2,"y":2020,"v":191.7},{"d":306.7,"y":2020,"v":191.4},{"d":309.7,"y":2020,"v":190.4},{"d":312.7,"y":2020,"v":192.7},{"d":314.9,"y":2020,"v":189.7},{"d":317.9,"y":2020,"v":187.1},{"d":320.9,"y":2020,"v":190.4},{"d":323.8,"y":2020,"v":190.7},{"d":326.8,"y":2020,"v":194.6},{"d":329.9,"y":2020,"v":198.2},{"d":333.6,"y":2020,"v":198.5},{"d":337.3,"y":2020,"v":198.8},{"d":340.3,"y":2020,"v":199.8},{"d":343.3,"y":2020,"v":201.4},{"d":346.3,"y":2020,"v":203},{"d":350.7,"y":2020,"v":204.4},{"d":353.7,"y":2020,"v":207.6},{"d":356.7,"y":2020,"v":209.9},{"d":358.2,"y":2020,"v":204.7},{"d":360.4,"y":2020,"v":210.8},{"d":363,"y":2020,"v":208.6}
],
"nat":[
{"d":150,"y":2013,"v":11},{"d":155,"y":2013,"v":13.5},{"d":160,"y":2013,"v":16},{"d":165,"y":2013,"v":19},{"d":170,"y":2013,"v":19.5},{"d":175,"y":2013,"v":22.5},{"d":180,"y":2013,"v":23},{"d":185,"y":2013,"v":23.5},{"d":190,"y":2013,"v":25},{"d":195,"y":2013,"v":25.5},{"d":200,"y":2013,"v":25},{"d":205,"y":2013,"v":25.5},{"d":210,"y":2013,"v":26},{"d":215,"y":2013,"v":25},{"d":220,"y":2013,"v":25.5},{"d":225,"y":2013,"v":25.5},{"d":230,"y":2013,"v":25},{"d":235,"y":2013,"v":24},{"d":240,"y":2013,"v":23.5},{"d":245,"y":2013,"v":21.5},{"d":248,"y":2013,"v":19.8},{"d":253.7,"y":2013,"v":19.5},{"d":259,"y":2013,"v":18.5},{"d":261.2,"y":2013,"v":13.4},{"d":264.9,"y":2013,"v":13.1},{"d":268.7,"y":2013,"v":13.1},{"d":271.6,"y":2013,"v":11.8},{"d":273.9,"y":2013,"v":8.8},{"d":276.1,"y":2013,"v":7.2},{"d":277.6,"y":2013,"v":8},{"d":279.9,"y":2013,"v":4},{"d":282.1,"y":2013,"v":0},{"d":284.3,"y":2013,"v":1.8},{"d":285.8,"y":2013,"v":0},{"d":363,"y":2013,"v":0},
{"d":150,"y":2014,"v":10.5},{"d":155,"y":2014,"v":12},{"d":160,"y":2014,"v":14.5},{"d":165,"y":2014,"v":18},{"d":170,"y":2014,"v":19.5},{"d":175,"y":2014,"v":22},{"d":180,"y":2014,"v":23},{"d":185,"y":2014,"v":24.5},{"d":190,"y":2014,"v":24.5},{"d":195,"y":2014,"v":26},{"d":200,"y":2014,"v":25.5},{"d":205,"y":2014,"v":25},{"d":210,"y":2014,"v":25.5},{"d":215,"y":2014,"v":24.5},{"d":220,"y":2014,"v":24.5},{"d":225,"y":2014,"v":24.5},{"d":230,"y":2014,"v":25.5},{"d":235,"y":2014,"v":25},{"d":240,"y":2014,"v":23},{"d":245,"y":2014,"v":22},{"d":248,"y":2014,"v":22},{"d":252.2,"y":2014,"v":21.4},{"d":255.2,"y":2014,"v":21.4},{"d":259,"y":2014,"v":17.9},{"d":262.7,"y":2014,"v":13.1},{"d":266.4,"y":2014,"v":12.6},{"d":270.1,"y":2014,"v":12},{"d":272.4,"y":2014,"v":14.2},{"d":275.4,"y":2014,"v":10.4},{"d":277.6,"y":2014,"v":5},{"d":279.1,"y":2014,"v":6.1},{"d":281.3,"y":2014,"v":3.4},{"d":282.8,"y":2014,"v":0.2},{"d":284,"y":2014,"v":0},{"d":363,"y":2014,"v":0},
{"d":150,"y":2015,"v":9.5},{"d":155,"y":2015,"v":13},{"d":157,"y":2015,"v":12},{"d":160,"y":2015,"v":13.5},{"d":165,"y":2015,"v":17},{"d":170,"y":2015,"v":17.5},{"d":175,"y":2015,"v":20},{"d":180,"y":2015,"v":22.5},{"d":185,"y":2015,"v":22.5},{"d":190,"y":2015,"v":23},{"d":195,"y":2015,"v":24.5},{"d":200,"y":2015,"v":24},{"d":205,"y":2015,"v":24.5},{"d":210,"y":2015,"v":27},{"d":212,"y":2015,"v":27.8},{"d":215,"y":2015,"v":26},{"d":220,"y":2015,"v":25.5},{"d":225,"y":2015,"v":25.5},{"d":230,"y":2015,"v":25},{"d":235,"y":2015,"v":25},{"d":238,"y":2015,"v":26.5},{"d":240,"y":2015,"v":26.5},{"d":245,"y":2015,"v":24},{"d":247.8,"y":2015,"v":23.8},{"d":252.2,"y":2015,"v":22.8},{"d":255.2,"y":2015,"v":21.4},{"d":259,"y":2015,"v":19.5},{"d":263.4,"y":2015,"v":15.8},{"d":265.7,"y":2015,"v":14.2},{"d":268.7,"y":2015,"v":16},{"d":271.6,"y":2015,"v":12},{"d":274.6,"y":2015,"v":13.6},{"d":277.6,"y":2015,"v":13.6},{"d":280.6,"y":2015,"v":12},{"d":285,"y":2015,"v":10.4},{"d":288,"y":2015,"v":9.3},{"d":292.5,"y":2015,"v":8.3},{"d":295.5,"y":2015,"v":4.5},{"d":297.8,"y":2015,"v":2.9},{"d":299.3,"y":2015,"v":0.2},{"d":300,"y":2015,"v":0},{"d":363,"y":2015,"v":0},
{"d":150,"y":2016,"v":6},{"d":155,"y":2016,"v":9},{"d":157,"y":2016,"v":8.5},{"d":160,"y":2016,"v":11},{"d":165,"y":2016,"v":15},{"d":170,"y":2016,"v":18},{"d":175,"y":2016,"v":20},{"d":180,"y":2016,"v":21.5},{"d":185,"y":2016,"v":22.5},{"d":190,"y":2016,"v":24},{"d":195,"y":2016,"v":25},{"d":200,"y":2016,"v":25.5},{"d":205,"y":2016,"v":25.5},{"d":210,"y":2016,"v":25.5},{"d":215,"y":2016,"v":25},{"d":220,"y":2016,"v":25},{"d":225,"y":2016,"v":24.5},{"d":230,"y":2016,"v":24.5},{"d":235,"y":2016,"v":23},{"d":240,"y":2016,"v":22},{"d":245,"y":2016,"v":20},{"d":248,"y":2016,"v":17.9},{"d":250.7,"y":2016,"v":14.7},{"d":253.7,"y":2016,"v":16.9},{"d":258.2,"y":2016,"v":14.7},{"d":261.9,"y":2016,"v":16.3},{"d":265.7,"y":2016,"v":13.4},{"d":269.4,"y":2016,"v":15.8},{"d":273.9,"y":2016,"v":10.7},{"d":277.6,"y":2016,"v":7.7},{"d":280.6,"y":2016,"v":9.3},{"d":283.6,"y":2016,"v":11},{"d":286.6,"y":2016,"v":7.2},{"d":288.8,"y":2016,"v":4},{"d":290.3,"y":2016,"v":0.8},{"d":291.8,"y":2016,"v":0},{"d":363,"y":2016,"v":0},
{"d":150,"y":2017,"v":11},{"d":155,"y":2017,"v":15},{"d":160,"y":2017,"v":17},{"d":165,"y":2017,"v":19},{"d":170,"y":2017,"v":21},{"d":175,"y":2017,"v":22.5},{"d":180,"y":2017,"v":23.5},{"d":185,"y":2017,"v":25},{"d":190,"y":2017,"v":26},{"d":195,"y":2017,"v":24.5},{"d":200,"y":2017,"v":26.5},{"d":205,"y":2017,"v":26.5},{"d":210,"y":2017,"v":24.5},{"d":215,"y":2017,"v":25},{"d":220,"y":2017,"v":24},{"d":225,"y":2017,"v":24},{"d":228,"y":2017,"v":21.5},{"d":230,"y":2017,"v":21},{"d":233,"y":2017,"v":19.5},{"d":235,"y":2017,"v":18},{"d":237,"y":2017,"v":16.5},{"d":240,"y":2017,"v":17.5},{"d":243,"y":2017,"v":17},{"d":245,"y":2017,"v":18.5},{"d":247.8,"y":2017,"v":21.1},{"d":252.2,"y":2017,"v":17.9},{"d":255.2,"y":2017,"v":15.8},{"d":258.2,"y":2017,"v":12},{"d":261.2,"y":2017,"v":4.5},{"d":262.7,"y":2017,"v":2.6},{"d":264.9,"y":2017,"v":1.8},{"d":267.2,"y":2017,"v":3.4},{"d":270.1,"y":2017,"v":4.5},{"d":273.1,"y":2017,"v":8.3},{"d":274.6,"y":2017,"v":8.8},{"d":277.6,"y":2017,"v":4.2},{"d":279.9,"y":2017,"v":3.7},{"d":282.1,"y":2017,"v":0.8},{"d":283.6,"y":2017,"v":0},{"d":363,"y":2017,"v":0},
{"d":150,"y":2018,"v":11.5},{"d":155,"y":2018,"v":13.5},{"d":160,"y":2018,"v":14},{"d":165,"y":2018,"v":17},{"d":170,"y":2018,"v":19.5},{"d":175,"y":2018,"v":22},{"d":180,"y":2018,"v":23.5},{"d":185,"y":2018,"v":24.5},{"d":190,"y":2018,"v":25.5},{"d":195,"y":2018,"v":26.5},{"d":200,"y":2018,"v":26},{"d":205,"y":2018,"v":26},{"d":210,"y":2018,"v":26.5},{"d":215,"y":2018,"v":27},{"d":220,"y":2018,"v":26.5},{"d":225,"y":2018,"v":27.5},{"d":230,"y":2018,"v":26},{"d":235,"y":2018,"v":25.5},{"d":240,"y":2018,"v":25},{"d":245,"y":2018,"v":23.5},{"d":247.8,"y":2018,"v":21.4},{"d":251.5,"y":2018,"v":18.5},{"d":255.2,"y":2018,"v":19.8},{"d":260.4,"y":2018,"v":19.5},{"d":264.9,"y":2018,"v":17.9},{"d":268.7,"y":2018,"v":17.7},{"d":272.4,"y":2018,"v":13.1},{"d":275.4,"y":2018,"v":9.9},{"d":279.1,"y":2018,"v":9.9},{"d":283.6,"y":2018,"v":8.3},{"d":287.3,"y":2018,"v":7.5},{"d":291,"y":2018,"v":4.5},{"d":295.5,"y":2018,"v":6.1},{"d":298.5,"y":2018,"v":1.8},{"d":300,"y":2018,"v":0.2},{"d":301,"y":2018,"v":0},{"d":363,"y":2018,"v":0},
{"d":150,"y":2019,"v":12.5},{"d":152,"y":2019,"v":13},{"d":155,"y":2019,"v":12},{"d":160,"y":2019,"v":15.5},{"d":165,"y":2019,"v":16},{"d":170,"y":2019,"v":18},{"d":175,"y":2019,"v":19.5},{"d":180,"y":2019,"v":21.5},{"d":185,"y":2019,"v":24},{"d":190,"y":2019,"v":25},{"d":195,"y":2019,"v":26.5},{"d":200,"y":2019,"v":25.5},{"d":205,"y":2019,"v":22},{"d":207,"y":2019,"v":21.5},{"d":210,"y":2019,"v":24},{"d":215,"y":2019,"v":25},{"d":220,"y":2019,"v":24.5},{"d":225,"y":2019,"v":23.5},{"d":230,"y":2019,"v":25.5},{"d":235,"y":2019,"v":24.5},{"d":240,"y":2019,"v":21},{"d":243,"y":2019,"v":18.5},{"d":245,"y":2019,"v":20},{"d":246,"y":2019,"v":19},{"d":248,"y":2019,"v":15},{"d":250,"y":2019,"v":12},{"d":252,"y":2019,"v":5},{"d":254,"y":2019,"v":4.5},{"d":256,"y":2019,"v":4.5},{"d":258,"y":2019,"v":2},{"d":260,"y":2019,"v":0},{"d":363,"y":2019,"v":0},
{"d":150,"y":2020,"v":10},{"d":155,"y":2020,"v":11.5},{"d":160,"y":2020,"v":15},{"d":165,"y":2020,"v":17},{"d":170,"y":2020,"v":20.5},{"d":173,"y":2020,"v":23.5},{"d":178,"y":2020,"v":23.5},{"d":180,"y":2020,"v":22},{"d":185,"y":2020,"v":24},{"d":190,"y":2020,"v":25.5},{"d":195,"y":2020,"v":27.5},{"d":198,"y":2020,"v":28.8},{"d":200,"y":2020,"v":28},{"d":205,"y":2020,"v":25.5},{"d":207,"y":2020,"v":24.5},{"d":210,"y":2020,"v":27},{"d":215,"y":2020,"v":26},{"d":220,"y":2020,"v":26},{"d":225,"y":2020,"v":26.5},{"d":230,"y":2020,"v":27},{"d":233,"y":2020,"v":25},{"d":235,"y":2020,"v":25.5},{"d":240,"y":2020,"v":24.5},{"d":245,"y":2020,"v":22.5},{"d":247.8,"y":2020,"v":21.7},{"d":253.7,"y":2020,"v":20.9},{"d":257.5,"y":2020,"v":19},{"d":261.2,"y":2020,"v":16.6},{"d":264.9,"y":2020,"v":17.4},{"d":269,"y":2020,"v":17.9},{"d":271.6,"y":2020,"v":15.8},{"d":275.4,"y":2020,"v":16},{"d":279.1,"y":2020,"v":14.2},{"d":282.8,"y":2020,"v":11},{"d":286.6,"y":2020,"v":9.3},{"d":289.6,"y":2020,"v":11.5},{"d":292.5,"y":2020,"v":8.8},{"d":298.5,"y":2020,"v":6.7},{"d":303,"y":2020,"v":4},{"d":306.7,"y":2020,"v":2.4},{"d":309.7,"y":2020,"v":1},{"d":312,"y":2020,"v":0},{"d":314.2,"y":2020,"v":0.5},{"d":315.7,"y":2020,"v":0},{"d":363,"y":2020,"v":0}
],
"hf":[
{"d":150,"y":2013,"v":-14},{"d":154,"y":2013,"v":-5},{"d":158,"y":2013,"v":3},{"d":162,"y":2013,"v":-12},{"d":166,"y":2013,"v":2},{"d":170,"y":2013,"v":-22},{"d":174,"y":2013,"v":-10},{"d":178,"y":2013,"v":-8},{"d":182,"y":2013,"v":-4},{"d":186,"y":2013,"v":-13},{"d":190,"y":2013,"v":-2},{"d":194,"y":2013,"v":-18},{"d":198,"y":2013,"v":-5},{"d":202,"y":2013,"v":-10},{"d":206,"y":2013,"v":-3},{"d":210,"y":2013,"v":-15},{"d":214,"y":2013,"v":1},{"d":218,"y":2013,"v":-10},{"d":222,"y":2013,"v":4},{"d":226,"y":2013,"v":-20},{"d":230,"y":2013,"v":2},{"d":234,"y":2013,"v":-24},{"d":238,"y":2013,"v":-8},{"d":242,"y":2013,"v":-14},{"d":246,"y":2013,"v":-18},{"d":250,"y":2013,"v":-8},{"d":254,"y":2013,"v":-25},{"d":258,"y":2013,"v":-15},{"d":262,"y":2013,"v":-6},{"d":266,"y":2013,"v":2},{"d":270,"y":2013,"v":-18},{"d":272,"y":2013,"v":-47},{"d":274,"y":2013,"v":-30},{"d":278,"y":2013,"v":-8},{"d":282,"y":2013,"v":-22},{"d":286,"y":2013,"v":-35},{"d":288,"y":2013,"v":-58},{"d":290,"y":2013,"v":-30},{"d":294,"y":2013,"v":-4},{"d":298,"y":2013,"v":-6},{"d":302,"y":2013,"v":-18},{"d":306,"y":2013,"v":-10},{"d":310,"y":2013,"v":-3},{"d":314,"y":2013,"v":-12},{"d":318,"y":2013,"v":-8},{"d":322,"y":2013,"v":-20},{"d":326,"y":2013,"v":-12},{"d":330,"y":2013,"v":-8},{"d":334,"y":2013,"v":-15},{"d":338,"y":2013,"v":-10},{"d":342,"y":2013,"v":-4},{"d":346,"y":2013,"v":-8},{"d":350,"y":2013,"v":-7},{"d":354,"y":2013,"v":-6},{"d":358,"y":2013,"v":-5},{"d":363,"y":2013,"v":-6},
{"d":152,"y":2013,"v":-8},{"d":156,"y":2013,"v":-2},{"d":160,"y":2013,"v":-6},{"d":164,"y":2013,"v":-4},{"d":168,"y":2013,"v":-10},{"d":172,"y":2013,"v":-16},{"d":176,"y":2013,"v":-12},{"d":180,"y":2013,"v":-15},{"d":184,"y":2013,"v":-8},{"d":188,"y":2013,"v":-6},{"d":192,"y":2013,"v":-10},{"d":196,"y":2013,"v":-8},{"d":200,"y":2013,"v":-14},{"d":204,"y":2013,"v":-6},{"d":208,"y":2013,"v":-10},{"d":212,"y":2013,"v":-6},{"d":216,"y":2013,"v":-12},{"d":220,"y":2013,"v":-4},{"d":224,"y":2013,"v":-8},{"d":228,"y":2013,"v":-6},{"d":232,"y":2013,"v":-12},{"d":236,"y":2013,"v":-16},{"d":240,"y":2013,"v":-20},{"d":244,"y":2013,"v":-8},{"d":248,"y":2013,"v":-12},{"d":252,"y":2013,"v":-20},{"d":256,"y":2013,"v":-14},{"d":260,"y":2013,"v":-10},{"d":264,"y":2013,"v":-20},{"d":268,"y":2013,"v":-8},{"d":276,"y":2013,"v":-14},{"d":280,"y":2013,"v":-12},{"d":284,"y":2013,"v":-12},{"d":292,"y":2013,"v":-16},{"d":296,"y":2013,"v":-8},{"d":300,"y":2013,"v":-22},{"d":304,"y":2013,"v":-14},{"d":308,"y":2013,"v":-24},{"d":312,"y":2013,"v":-8},{"d":316,"y":2013,"v":-22},{"d":320,"y":2013,"v":-14},{"d":324,"y":2013,"v":-4},{"d":328,"y":2013,"v":-16},{"d":332,"y":2013,"v":-10},{"d":336,"y":2013,"v":-6},{"d":340,"y":2013,"v":-12},{"d":344,"y":2013,"v":-6},
{"d":150,"y":2014,"v":-8},{"d":154,"y":2014,"v":-4},{"d":158,"y":2014,"v":-14},{"d":162,"y":2014,"v":-6},{"d":166,"y":2014,"v":-18},{"d":170,"y":2014,"v":-8},{"d":174,"y":2014,"v":-12},{"d":178,"y":2014,"v":-4},{"d":182,"y":2014,"v":-16},{"d":186,"y":2014,"v":-10},{"d":190,"y":2014,"v":-6},{"d":194,"y":2014,"v":-14},{"d":198,"y":2014,"v":-20},{"d":202,"y":2014,"v":-8},{"d":206,"y":2014,"v":-4},{"d":210,"y":2014,"v":-14},{"d":214,"y":2014,"v":-20},{"d":218,"y":2014,"v":-8},{"d":222,"y":2014,"v":3},{"d":226,"y":2014,"v":-16},{"d":230,"y":2014,"v":-10},{"d":234,"y":2014,"v":-14},{"d":238,"y":2014,"v":-6},{"d":242,"y":2014,"v":10},{"d":246,"y":2014,"v":-2},{"d":250,"y":2014,"v":-14},{"d":254,"y":2014,"v":-24},{"d":258,"y":2014,"v":-10},{"d":262,"y":2014,"v":8},{"d":266,"y":2014,"v":-12},{"d":270,"y":2014,"v":-6},{"d":274,"y":2014,"v":-30},{"d":277,"y":2014,"v":-58},{"d":280,"y":2014,"v":-48},{"d":283,"y":2014,"v":-45},{"d":286,"y":2014,"v":-20},{"d":290,"y":2014,"v":-10},{"d":294,"y":2014,"v":-8},{"d":298,"y":2014,"v":-18},{"d":302,"y":2014,"v":-50},{"d":304,"y":2014,"v":-53},{"d":306,"y":2014,"v":-20},{"d":308,"y":2014,"v":12},{"d":312,"y":2014,"v":-8},{"d":316,"y":2014,"v":-16},{"d":320,"y":2014,"v":-10},{"d":324,"y":2014,"v":-6},{"d":328,"y":2014,"v":-4},{"d":332,"y":2014,"v":5},{"d":336,"y":2014,"v":-2},{"d":340,"y":2014,"v":-8},{"d":344,"y":2014,"v":-37},{"d":346,"y":2014,"v":-30},{"d":350,"y":2014,"v":8},{"d":354,"y":2014,"v":-4},{"d":358,"y":2014,"v":-6},{"d":363,"y":2014,"v":-10},
{"d":152,"y":2014,"v":-12},{"d":156,"y":2014,"v":-10},{"d":160,"y":2014,"v":-4},{"d":164,"y":2014,"v":-14},{"d":168,"y":2014,"v":-6},{"d":172,"y":2014,"v":-14},{"d":176,"y":2014,"v":-6},{"d":180,"y":2014,"v":-10},{"d":184,"y":2014,"v":-6},{"d":188,"y":2014,"v":-18},{"d":192,"y":2014,"v":-10},{"d":196,"y":2014,"v":-4},{"d":200,"y":2014,"v":-12},{"d":204,"y":2014,"v":-16},{"d":208,"y":2014,"v":-10},{"d":212,"y":2014,"v":-6},{"d":216,"y":2014,"v":-12},{"d":220,"y":2014,"v":-14},{"d":224,"y":2014,"v":-6},{"d":228,"y":2014,"v":-20},{"d":232,"y":2014,"v":-6},{"d":236,"y":2014,"v":-18},{"d":240,"y":2014,"v":-2},{"d":244,"y":2014,"v":-8},{"d":248,"y":2014,"v":-18},{"d":252,"y":2014,"v":-6},{"d":256,"y":2014,"v":-16},{"d":260,"y":2014,"v":-4},{"d":264,"y":2014,"v":-2},{"d":268,"y":2014,"v":-18},{"d":272,"y":2014,"v":-14},{"d":288,"y":2014,"v":-30},{"d":292,"y":2014,"v":-16},{"d":296,"y":2014,"v":-24},{"d":300,"y":2014,"v":-30},{"d":310,"y":2014,"v":-4},{"d":314,"y":2014,"v":-20},{"d":318,"y":2014,"v":-6},{"d":322,"y":2014,"v":-14},{"d":326,"y":2014,"v":-10},{"d":330,"y":2014,"v":-8},{"d":334,"y":2014,"v":-6},{"d":338,"y":2014,"v":-14},{"d":342,"y":2014,"v":-20},
{"d":150,"y":2015,"v":-10},{"d":154,"y":2015,"v":0},{"d":158,"y":2015,"v":-8},{"d":162,"y":2015,"v":-22},{"d":166,"y":2015,"v":-12},{"d":170,"y":2015,"v":-2},{"d":174,"y":2015,"v":-8},{"d":178,"y":2015,"v":-4},{"d":182,"y":2015,"v":-10},{"d":186,"y":2015,"v":-6},{"d":190,"y":2015,"v":-12},{"d":194,"y":2015,"v":-4},{"d":198,"y":2015,"v":-22},{"d":202,"y":2015,"v":-10},{"d":206,"y":2015,"v":4},{"d":210,"y":2015,"v":-6},{"d":214,"y":2015,"v":-10},{"d":218,"y":2015,"v":-4},{"d":222,"y":2015,"v":-14},{"d":226,"y":2015,"v":-8},{"d":230,"y":2015,"v":-12},{"d":234,"y":2015,"v":-14},{"d":238,"y":2015,"v":-8},{"d":242,"y":2015,"v":8},{"d":246,"y":2015,"v":-10},{"d":250,"y":2015,"v":-14},{"d":254,"y":2015,"v":-8},{"d":258,"y":2015,"v":-20},{"d":262,"y":2015,"v":-16},{"d":266,"y":2015,"v":-6},{"d":270,"y":2015,"v":-24},{"d":272,"y":2015,"v":10},{"d":274,"y":2015,"v":-20},{"d":278,"y":2015,"v":-8},{"d":282,"y":2015,"v":-12},{"d":286,"y":2015,"v":-22},{"d":290,"y":2015,"v":-34},{"d":294,"y":2015,"v":-10},{"d":298,"y":2015,"v":-16},{"d":302,"y":2015,"v":-30},{"d":306,"y":2015,"v":-47},{"d":308,"y":2015,"v":-10},{"d":312,"y":2015,"v":-18},{"d":316,"y":2015,"v":-6},{"d":320,"y":2015,"v":-10},{"d":324,"y":2015,"v":-14},{"d":328,"y":2015,"v":-20},{"d":332,"y":2015,"v":-4},{"d":334,"y":2015,"v":6},{"d":338,"y":2015,"v":-10},{"d":342,"y":2015,"v":-20},{"d":346,"y":2015,"v":-18},{"d":350,"y":2015,"v":-12},{"d":354,"y":2015,"v":-10},{"d":358,"y":2015,"v":-8},{"d":363,"y":2015,"v":-7},
{"d":152,"y":2015,"v":-4},{"d":156,"y":2015,"v":-6},{"d":160,"y":2015,"v":-14},{"d":164,"y":2015,"v":-18},{"d":168,"y":2015,"v":-6},{"d":172,"y":2015,"v":-10},{"d":176,"y":2015,"v":-2},{"d":180,"y":2015,"v":-14},{"d":184,"y":2015,"v":-6},{"d":188,"y":2015,"v":-10},{"d":192,"y":2015,"v":-8},{"d":196,"y":2015,"v":-14},{"d":200,"y":2015,"v":-16},{"d":204,"y":2015,"v":-2},{"d":208,"y":2015,"v":-8},{"d":212,"y":2015,"v":5},{"d":216,"y":2015,"v":-14},{"d":220,"y":2015,"v":-6},{"d":224,"y":2015,"v":-10},{"d":228,"y":2015,"v":-18},{"d":232,"y":2015,"v":-6},{"d":236,"y":2015,"v":-10},{"d":240,"y":2015,"v":-2},{"d":244,"y":2015,"v":-14},{"d":248,"y":2015,"v":-6},{"d":252,"y":2015,"v":-18},{"d":256,"y":2015,"v":-12},{"d":260,"y":2015,"v":-10},{"d":264,"y":2015,"v":-12},{"d":268,"y":2015,"v":-14},{"d":276,"y":2015,"v":-12},{"d":280,"y":2015,"v":-6},{"d":284,"y":2015,"v":-18},{"d":288,"y":2015,"v":-26},{"d":292,"y":2015,"v":-16},{"d":296,"y":2015,"v":-20},{"d":300,"y":2015,"v":-8},{"d":304,"y":2015,"v":-22},{"d":310,"y":2015,"v":-14},{"d":314,"y":2015,"v":-10},{"d":318,"y":2015,"v":-14},{"d":322,"y":2015,"v":-6},{"d":326,"y":2015,"v":-20},{"d":330,"y":2015,"v":-12},{"d":336,"y":2015,"v":-4},{"d":340,"y":2015,"v":-14},{"d":344,"y":2015,"v":-16},
{"d":150,"y":2016,"v":-12},{"d":154,"y":2016,"v":-6},{"d":158,"y":2016,"v":-20},{"d":162,"y":2016,"v":-8},{"d":166,"y":2016,"v":-2},{"d":170,"y":2016,"v":-14},{"d":174,"y":2016,"v":-4},{"d":178,"y":2016,"v":-12},{"d":182,"y":2016,"v":-8},{"d":186,"y":2016,"v":-18},{"d":190,"y":2016,"v":-6},{"d":194,"y":2016,"v":-10},{"d":198,"y":2016,"v":-4},{"d":202,"y":2016,"v":-14},{"d":206,"y":2016,"v":-20},{"d":210,"y":2016,"v":-8},{"d":214,"y":2016,"v":-12},{"d":218,"y":2016,"v":-16},{"d":222,"y":2016,"v":-6},{"d":226,"y":2016,"v":-10},{"d":230,"y":2016,"v":-20},{"d":234,"y":2016,"v":-24},{"d":238,"y":2016,"v":-30},{"d":242,"y":2016,"v":-10},{"d":246,"y":2016,"v":-25},{"d":248,"y":2016,"v":-44},{"d":250,"y":2016,"v":-20},{"d":254,"y":2016,"v":-10},{"d":258,"y":2016,"v":-20},{"d":262,"y":2016,"v":-8},{"d":266,"y":2016,"v":-14},{"d":270,"y":2016,"v":-22},{"d":274,"y":2016,"v":-10},{"d":278,"y":2016,"v":-16},{"d":282,"y":2016,"v":-20},{"d":286,"y":2016,"v":-40},{"d":289,"y":2016,"v":-68},{"d":291,"y":2016,"v":-30},{"d":293,"y":2016,"v":17},{"d":296,"y":2016,"v":-10},{"d":300,"y":2016,"v":-4},{"d":302,"y":2016,"v":8},{"d":306,"y":2016,"v":-16},{"d":310,"y":2016,"v":-8},{"d":314,"y":2016,"v":-14},{"d":318,"y":2016,"v":-20},{"d":322,"y":2016,"v":-30},{"d":325,"y":2016,"v":-45},{"d":328,"y":2016,"v":-20},{"d":332,"y":2016,"v":-12},{"d":336,"y":2016,"v":-8},{"d":340,"y":2016,"v":-10},{"d":344,"y":2016,"v":-6},{"d":348,"y":2016,"v":-8},{"d":352,"y":2016,"v":-6},{"d":356,"y":2016,"v":-5},{"d":360,"y":2016,"v":-6},{"d":363,"y":2016,"v":-5},
{"d":152,"y":2016,"v":-8},{"d":156,"y":2016,"v":-14},{"d":160,"y":2016,"v":-12},{"d":164,"y":2016,"v":-4},{"d":168,"y":2016,"v":-10},{"d":172,"y":2016,"v":-8},{"d":176,"y":2016,"v":-14},{"d":180,"y":2016,"v":-6},{"d":184,"y":2016,"v":-14},{"d":188,"y":2016,"v":-10},{"d":192,"y":2016,"v":-14},{"d":196,"y":2016,"v":-6},{"d":200,"y":2016,"v":-10},{"d":204,"y":2016,"v":-8},{"d":208,"y":2016,"v":-14},{"d":212,"y":2016,"v":-4},{"d":216,"y":2016,"v":-8},{"d":220,"y":2016,"v":-10},{"d":224,"y":2016,"v":-14},{"d":228,"y":2016,"v":-16},{"d":232,"y":2016,"v":-12},{"d":236,"y":2016,"v":-20},{"d":240,"y":2016,"v":-14},{"d":244,"y":2016,"v":-18},{"d":252,"y":2016,"v":-14},{"d":256,"y":2016,"v":-16},{"d":260,"y":2016,"v":-12},{"d":264,"y":2016,"v":-18},{"d":268,"y":2016,"v":-8},{"d":272,"y":2016,"v":-18},{"d":276,"y":2016,"v":-12},{"d":280,"y":2016,"v":-10},{"d":284,"y":2016,"v":-28},{"d":298,"y":2016,"v":-16},{"d":304,"y":2016,"v":-10},{"d":308,"y":2016,"v":-20},{"d":312,"y":2016,"v":-10},{"d":316,"y":2016,"v":-24},{"d":320,"y":2016,"v":-16},{"d":324,"y":2016,"v":-38},{"d":330,"y":2016,"v":-16},{"d":334,"y":2016,"v":-8},{"d":338,"y":2016,"v":-14},{"d":342,"y":2016,"v":-8},
{"d":150,"y":2017,"v":-8},{"d":154,"y":2017,"v":-12},{"d":158,"y":2017,"v":-6},{"d":162,"y":2017,"v":-10},{"d":166,"y":2017,"v":-14},{"d":170,"y":2017,"v":-6},{"d":174,"y":2017,"v":-10},{"d":178,"y":2017,"v":-2},{"d":182,"y":2017,"v":2},{"d":186,"y":2017,"v":-12},{"d":190,"y":2017,"v":-6},{"d":194,"y":2017,"v":-14},{"d":198,"y":2017,"v":-16},{"d":202,"y":2017,"v":-4},{"d":206,"y":2017,"v":-10},{"d":210,"y":2017,"v":-12},{"d":214,"y":2017,"v":-20},{"d":218,"y":2017,"v":-8},{"d":222,"y":2017,"v":-16},{"d":226,"y":2017,"v":-28},{"d":230,"y":2017,"v":-12},{"d":234,"y":2017,"v":-20},{"d":238,"y":2017,"v":-10},{"d":240,"y":2017,"v":14},{"d":242,"y":2017,"v":-8},{"d":246,"y":2017,"v":-14},{"d":250,"y":2017,"v":-30},{"d":253,"y":2017,"v":-75},{"d":255,"y":2017,"v":-40},{"d":258,"y":2017,"v":-10},{"d":262,"y":2017,"v":-22},{"d":266,"y":2017,"v":-12},{"d":270,"y":2017,"v":-6},{"d":274,"y":2017,"v":-16},{"d":278,"y":2017,"v":-4},{"d":282,"y":2017,"v":-10},{"d":286,"y":2017,"v":-14},{"d":290,"y":2017,"v":-6},{"d":294,"y":2017,"v":0},{"d":298,"y":2017,"v":-12},{"d":302,"y":2017,"v":-20},{"d":306,"y":2017,"v":-30},{"d":308,"y":2017,"v":-40},{"d":310,"y":2017,"v":-14},{"d":314,"y":2017,"v":-8},{"d":318,"y":2017,"v":-16},{"d":322,"y":2017,"v":-10},{"d":326,"y":2017,"v":-20},{"d":330,"y":2017,"v":-8},{"d":334,"y":2017,"v":-12},{"d":338,"y":2017,"v":-8},{"d":342,"y":2017,"v":-6},{"d":346,"y":2017,"v":-10},{"d":350,"y":2017,"v":-7},{"d":354,"y":2017,"v":-9},{"d":358,"y":2017,"v":-8},{"d":363,"y":2017,"v":-8},
{"d":152,"y":2017,"v":-10},{"d":156,"y":2017,"v":-4},{"d":160,"y":2017,"v":-12},{"d":164,"y":2017,"v":-6},{"d":168,"y":2017,"v":-10},{"d":172,"y":2017,"v":-14},{"d":176,"y":2017,"v":-4},{"d":180,"y":2017,"v":-8},{"d":184,"y":2017,"v":-6},{"d":188,"y":2017,"v":-16},{"d":192,"y":2017,"v":-10},{"d":196,"y":2017,"v":-8},{"d":200,"y":2017,"v":-12},{"d":204,"y":2017,"v":-14},{"d":208,"y":2017,"v":-6},{"d":212,"y":2017,"v":-8},{"d":216,"y":2017,"v":-14},{"d":220,"y":2017,"v":-18},{"d":224,"y":2017,"v":-10},{"d":228,"y":2017,"v":-16},{"d":232,"y":2017,"v":-24},{"d":236,"y":2017,"v":-14},{"d":244,"y":2017,"v":-20},{"d":248,"y":2017,"v":-6},{"d":260,"y":2017,"v":-14},{"d":264,"y":2017,"v":-6},{"d":268,"y":2017,"v":-18},{"d":272,"y":2017,"v":-10},{"d":276,"y":2017,"v":-20},{"d":280,"y":2017,"v":-8},{"d":284,"y":2017,"v":-4},{"d":288,"y":2017,"v":-18},{"d":292,"y":2017,"v":-12},{"d":296,"y":2017,"v":-20},{"d":300,"y":2017,"v":-6},{"d":304,"y":2017,"v":-14},{"d":312,"y":2017,"v":-22},{"d":316,"y":2017,"v":-6},{"d":320,"y":2017,"v":-22},{"d":324,"y":2017,"v":-4},{"d":328,"y":2017,"v":-14},{"d":332,"y":2017,"v":-18},{"d":336,"y":2017,"v":-10},{"d":340,"y":2017,"v":-12},{"d":344,"y":2017,"v":-4},
{"d":150,"y":2018,"v":-12},{"d":154,"y":2018,"v":-8},{"d":158,"y":2018,"v":-4},{"d":162,"y":2018,"v":-10},{"d":166,"y":2018,"v":-6},{"d":170,"y":2018,"v":-16},{"d":174,"y":2018,"v":-24},{"d":178,"y":2018,"v":-6},{"d":182,"y":2018,"v":-10},{"d":186,"y":2018,"v":-4},{"d":190,"y":2018,"v":-12},{"d":194,"y":2018,"v":-8},{"d":198,"y":2018,"v":-14},{"d":202,"y":2018,"v":-10},{"d":206,"y":2018,"v":-4},{"d":210,"y":2018,"v":-12},{"d":214,"y":2018,"v":-6},{"d":218,"y":2018,"v":-18},{"d":222,"y":2018,"v":-4},{"d":226,"y":2018,"v":-10},{"d":230,"y":2018,"v":-22},{"d":234,"y":2018,"v":-8},{"d":238,"y":2018,"v":-14},{"d":242,"y":2018,"v":-8},{"d":246,"y":2018,"v":-36},{"d":250,"y":2018,"v":-18},{"d":254,"y":2018,"v":-8},{"d":258,"y":2018,"v":5},{"d":262,"y":2018,"v":-14},{"d":266,"y":2018,"v":-8},{"d":270,"y":2018,"v":-20},{"d":274,"y":2018,"v":-10},{"d":278,"y":2018,"v":-4},{"d":282,"y":2018,"v":-16},{"d":286,"y":2018,"v":-8},{"d":290,"y":2018,"v":-12},{"d":294,"y":2018,"v":-4},{"d":298,"y":2018,"v":-14},{"d":302,"y":2018,"v":-22},{"d":305,"y":2018,"v":-50},{"d":307,"y":2018,"v":-55},{"d":309,"y":2018,"v":-30},{"d":312,"y":2018,"v":-10},{"d":316,"y":2018,"v":-20},{"d":320,"y":2018,"v":-8},{"d":324,"y":2018,"v":14},{"d":326,"y":2018,"v":-16},{"d":328,"y":2018,"v":-34},{"d":330,"y":2018,"v":-14},{"d":334,"y":2018,"v":-22},{"d":338,"y":2018,"v":-8},{"d":342,"y":2018,"v":-6},{"d":346,"y":2018,"v":-10},{"d":350,"y":2018,"v":-6},{"d":354,"y":2018,"v":-5},{"d":358,"y":2018,"v":-7},{"d":363,"y":2018,"v":-4},
{"d":152,"y":2018,"v":-6},{"d":156,"y":2018,"v":-14},{"d":160,"y":2018,"v":-8},{"d":164,"y":2018,"v":-2},{"d":168,"y":2018,"v":-12},{"d":172,"y":2018,"v":-6},{"d":176,"y":2018,"v":-10},{"d":180,"y":2018,"v":-16},{"d":184,"y":2018,"v":-6},{"d":188,"y":2018,"v":-10},{"d":192,"y":2018,"v":-4},{"d":196,"y":2018,"v":-12},{"d":200,"y":2018,"v":-6},{"d":204,"y":2018,"v":-16},{"d":208,"y":2018,"v":-8},{"d":212,"y":2018,"v":-14},{"d":216,"y":2018,"v":-10},{"d":220,"y":2018,"v":-6},{"d":224,"y":2018,"v":-14},{"d":228,"y":2018,"v":-4},{"d":232,"y":2018,"v":-10},{"d":236,"y":2018,"v":-18},{"d":240,"y":2018,"v":-4},{"d":244,"y":2018,"v":-22},{"d":248,"y":2018,"v":-26},{"d":252,"y":2018,"v":-10},{"d":256,"y":2018,"v":-16},{"d":260,"y":2018,"v":-8},{"d":264,"y":2018,"v":-20},{"d":268,"y":2018,"v":-4},{"d":272,"y":2018,"v":-14},{"d":276,"y":2018,"v":-18},{"d":280,"y":2018,"v":-8},{"d":284,"y":2018,"v":-6},{"d":288,"y":2018,"v":-18},{"d":292,"y":2018,"v":-6},{"d":296,"y":2018,"v":-10},{"d":300,"y":2018,"v":-4},{"d":314,"y":2018,"v":-14},{"d":318,"y":2018,"v":-12},{"d":322,"y":2018,"v":-4},{"d":332,"y":2018,"v":-8},{"d":336,"y":2018,"v":-18},{"d":340,"y":2018,"v":-12},{"d":344,"y":2018,"v":-8},
{"d":150,"y":2019,"v":-8},{"d":154,"y":2019,"v":-20},{"d":158,"y":2019,"v":-12},{"d":162,"y":2019,"v":-28},{"d":164,"y":2019,"v":-25},{"d":166,"y":2019,"v":-12},{"d":170,"y":2019,"v":-14},{"d":174,"y":2019,"v":3},{"d":178,"y":2019,"v":-10},{"d":182,"y":2019,"v":-14},{"d":186,"y":2019,"v":-26},{"d":190,"y":2019,"v":-8},{"d":194,"y":2019,"v":-18},{"d":198,"y":2019,"v":-26},{"d":202,"y":2019,"v":-16},{"d":206,"y":2019,"v":-6},{"d":208,"y":2019,"v":2},{"d":212,"y":2019,"v":9},{"d":214,"y":2019,"v":-4},{"d":218,"y":2019,"v":-24},{"d":222,"y":2019,"v":-10},{"d":226,"y":2019,"v":-18},{"d":230,"y":2019,"v":-12},{"d":234,"y":2019,"v":-40},{"d":236,"y":2019,"v":-40},{"d":238,"y":2019,"v":-22},{"d":240,"y":2019,"v":-28},{"d":242,"y":2019,"v":-45},{"d":244,"y":2019,"v":-51},{"d":246,"y":2019,"v":-42},{"d":248,"y":2019,"v":-30},{"d":252,"y":2019,"v":-38},{"d":255,"y":2019,"v":-54},{"d":258,"y":2019,"v":-40},{"d":262,"y":2019,"v":-14},{"d":264,"y":2019,"v":15},{"d":266,"y":2019,"v":-6},{"d":270,"y":2019,"v":-20},{"d":272,"y":2019,"v":-38},{"d":274,"y":2019,"v":-10},{"d":276,"y":2019,"v":2},{"d":280,"y":2019,"v":-8},{"d":282,"y":2019,"v":-2},{"d":284,"y":2019,"v":5},{"d":286,"y":2019,"v":-20},{"d":290,"y":2019,"v":-14},{"d":294,"y":2019,"v":-6},{"d":298,"y":2019,"v":-20},{"d":302,"y":2019,"v":-28},{"d":306,"y":2019,"v":-20},{"d":310,"y":2019,"v":-8},{"d":313,"y":2019,"v":-37},{"d":316,"y":2019,"v":-12},{"d":320,"y":2019,"v":-18},{"d":324,"y":2019,"v":-14},{"d":328,"y":2019,"v":-10},{"d":332,"y":2019,"v":-3},{"d":336,"y":2019,"v":-8},{"d":340,"y":2019,"v":-4},{"d":344,"y":2019,"v":-6},{"d":348,"y":2019,"v":-5},{"d":352,"y":2019,"v":-4},{"d":356,"y":2019,"v":-3},{"d":360,"y":2019,"v":-4},{"d":363,"y":2019,"v":-8},
{"d":152,"y":2019,"v":-14},{"d":156,"y":2019,"v":-16},{"d":160,"y":2019,"v":-10},{"d":168,"y":2019,"v":-20},{"d":172,"y":2019,"v":-8},{"d":176,"y":2019,"v":-6},{"d":180,"y":2019,"v":-18},{"d":184,"y":2019,"v":-8},{"d":188,"y":2019,"v":-14},{"d":192,"y":2019,"v":-6},{"d":196,"y":2019,"v":-12},{"d":200,"y":2019,"v":-20},{"d":204,"y":2019,"v":-10},{"d":210,"y":2019,"v":-12},{"d":216,"y":2019,"v":-14},{"d":220,"y":2019,"v":-18},{"d":224,"y":2019,"v":-6},{"d":228,"y":2019,"v":-22},{"d":232,"y":2019,"v":-16},{"d":250,"y":2019,"v":-42},{"d":260,"y":2019,"v":-30},{"d":268,"y":2019,"v":-10},{"d":278,"y":2019,"v":-12},{"d":288,"y":2019,"v":-6},{"d":292,"y":2019,"v":-24},{"d":296,"y":2019,"v":-12},{"d":300,"y":2019,"v":-14},{"d":304,"y":2019,"v":-8},{"d":308,"y":2019,"v":-18},{"d":312,"y":2019,"v":-24},{"d":318,"y":2019,"v":-8},{"d":322,"y":2019,"v":-20},{"d":326,"y":2019,"v":-6},{"d":330,"y":2019,"v":-14},{"d":334,"y":2019,"v":-6},{"d":338,"y":2019,"v":-10},{"d":342,"y":2019,"v":-4},
{"d":150,"y":2020,"v":-10},{"d":152.8,"y":2020,"v":-3},{"d":155.8,"y":2020,"v":-2.3},{"d":158.8,"y":2020,"v":-5.8},{"d":161.7,"y":2020,"v":-5.8},{"d":164.7,"y":2020,"v":-7.5},{"d":165.5,"y":2020,"v":-20.6},{"d":167.7,"y":2020,"v":-9.3},{"d":169.2,"y":2020,"v":1.2},{"d":172.2,"y":2020,"v":0.3},{"d":175.1,"y":2020,"v":-0.5},{"d":178.1,"y":2020,"v":-3.1},{"d":179.6,"y":2020,"v":-14.5},{"d":182.2,"y":2020,"v":-34.3},{"d":184,"y":2020,"v":-12.8},{"d":185.5,"y":2020,"v":-4},{"d":188.5,"y":2020,"v":-5.8},{"d":190.7,"y":2020,"v":-28.8},{"d":192.2,"y":2020,"v":-9.3},{"d":194.1,"y":2020,"v":5.6},{"d":195.9,"y":2020,"v":-0.5},{"d":198.2,"y":2020,"v":-9.3},{"d":200.4,"y":2020,"v":-15.4},{"d":201.9,"y":2020,"v":-5.8},{"d":203.8,"y":2020,"v":-19.8},{"d":205.6,"y":2020,"v":-25},{"d":207.8,"y":2020,"v":3.8},{"d":210.1,"y":2020,"v":-18},{"d":212.3,"y":2020,"v":-2.3},{"d":215.3,"y":2020,"v":-11},{"d":219,"y":2020,"v":-4.9},{"d":222.7,"y":2020,"v":-14.5},{"d":225,"y":2020,"v":-18},{"d":227.2,"y":2020,"v":-28.5},{"d":228.7,"y":2020,"v":-11},{"d":230.9,"y":2020,"v":-24},{"d":233.1,"y":2020,"v":-6.6},{"d":235.4,"y":2020,"v":-21.5},{"d":237.6,"y":2020,"v":-18},{"d":240.6,"y":2020,"v":-16.3},{"d":242.8,"y":2020,"v":8.2},{"d":245,"y":2020,"v":-11},{"d":247.2,"y":2020,"v":9.1},{"d":250,"y":2020,"v":-12.8},{"d":252.2,"y":2020,"v":-21.5},{"d":254.5,"y":2020,"v":-25},{"d":256,"y":2020,"v":-35.5},{"d":258.2,"y":2020,"v":8.2},{"d":260.4,"y":2020,"v":1.2},{"d":262.7,"y":2020,"v":-5.8},{"d":264.9,"y":2020,"v":13.5},{"d":267.2,"y":2020,"v":-4},{"d":269.4,"y":2020,"v":-16.3},{"d":272.4,"y":2020,"v":-15.4},{"d":274.6,"y":2020,"v":-14.5},{"d":276.9,"y":2020,"v":1.2},{"d":279.1,"y":2020,"v":-16.3},{"d":281.3,"y":2020,"v":-30.2},{"d":283.6,"y":2020,"v":1.2},{"d":285.8,"y":2020,"v":8.2},{"d":287.3,"y":2020,"v":11.7},{"d":289.6,"y":2020,"v":-9.3},{"d":291.8,"y":2020,"v":-19.8},{"d":292.9,"y":2020,"v":-37.2},{"d":294.8,"y":2020,"v":8.2},{"d":297,"y":2020,"v":-5.8},{"d":299.3,"y":2020,"v":3},{"d":301.5,"y":2020,"v":-12.8},{"d":303.7,"y":2020,"v":-2.3},{"d":306.7,"y":2020,"v":-25},{"d":308.2,"y":2020,"v":-14.5},{"d":310.4,"y":2020,"v":4.7},{"d":312.7,"y":2020,"v":-0.5},{"d":313.8,"y":2020,"v":12.6},{"d":315.7,"y":2020,"v":-9.3},{"d":317.9,"y":2020,"v":-0.5},{"d":319,"y":2020,"v":10},{"d":320.9,"y":2020,"v":-9.3},{"d":323.1,"y":2020,"v":-0.5},{"d":326.1,"y":2020,"v":11.7},{"d":328.4,"y":2020,"v":-16.3},{"d":330.6,"y":2020,"v":-11},{"d":332.8,"y":2020,"v":-19.8},{"d":335,"y":2020,"v":-9.3},{"d":337.3,"y":2020,"v":-26.7},{"d":339.6,"y":2020,"v":-14.5},{"d":341.8,"y":2020,"v":-0.5},{"d":344.1,"y":2020,"v":-4},{"d":346.3,"y":2020,"v":-5.8},{"d":348.2,"y":2020,"v":3},{"d":350.1,"y":2020,"v":-19.8},{"d":351.6,"y":2020,"v":-2.3},{"d":353.8,"y":2020,"v":-19.8},{"d":356.1,"y":2020,"v":-23.3},{"d":357.9,"y":2020,"v":-43.4},{"d":359.8,"y":2020,"v":-16.3},{"d":361.3,"y":2020,"v":-11},{"d":363,"y":2020,"v":-18.9}
],
"months":[{"d":152,"m":"June"},{"d":180,"m":"July"},{"d":210,"m":"Aug"},{"d":240,"m":"Sep"},{"d":270,"m":"Oct"},{"d":300,"m":"Nov"},{"d":330,"m":"Dec"}]
},
"vconcat":[
{"width":991,"height":195,
 "title":{"text":"Meteorology of the Years","frame":"group","anchor":"middle","fontSize":16.5,"fontWeight":"bold","font":"DejaVu Sans","offset":4,"color":"#000"},
 "resolve":{"axis":{"x":"independent"}},
 "layer":[
  {"data":{"name":"t"},"mark":{"type":"line","strokeWidth":3,"clip":true},
   "encoding":{
    "x":{"field":"d","type":"quantitative","scale":{"domain":[150,363.5],"nice":false,"zero":false},"axis":{"values":[150,180,210,240,270,300,330,360],"labels":false,"title":null,"orient":"bottom"}},
    "y":{"field":"v","type":"quantitative","scale":{"domain":[192,232.5],"nice":false,"zero":false},"axis":{"values":[200,210,220,230],"title":"T (K)"}},
    "color":{"field":"y","type":"nominal","scale":{"domain":[2013,2014,2015,2016,2017,2018,2019,2020],"range":["#ff0000","#008000","#000000","#800080","#ffff00","#ffa500","#0000ff","#ff00ff"]},"legend":null}}},
  {"data":{"values":[{}]},"mark":{"type":"text","align":"left","baseline":"middle","fontSize":16.5,"fontWeight":"bold","font":"DejaVu Sans","color":"#000"},
   "encoding":{"x":{"datum":151,"axis":{"values":[157.5,165,172.5,187.5,195,202.5,217.5,225,232.5,247.5,255,262.5,277.5,285,292.5,307.5,315,322.5,337.5,345,352.5],"labels":false,"grid":false,"title":null,"tickSize":3,"orient":"bottom"}},"y":{"datum":226.8},"text":{"value":"T (60 - 90°S)"}}}
 ]},
{"width":991,"height":197,
 "resolve":{"axis":{"x":"independent"}},
 "layer":[
  {"data":{"values":[{}]},"mark":{"type":"rule","color":"#444","strokeWidth":1.5},"encoding":{"y":{"datum":195}}},
  {"data":{"name":"tmin"},"mark":{"type":"line","strokeWidth":2.6,"clip":true},
   "encoding":{
    "x":{"field":"d","type":"quantitative","scale":{"domain":[150,363.5],"nice":false,"zero":false},"axis":{"values":[150,180,210,240,270,300,330,360],"labels":false,"title":null,"orient":"bottom"}},
    "y":{"field":"v","type":"quantitative","scale":{"domain":[179.6,218],"nice":false,"zero":false},"axis":{"values":[180,190,200,210],"title":"Tmin (K)"}},
    "color":{"field":"y","type":"nominal","scale":{"domain":[2013,2014,2015,2016,2017,2018,2019,2020],"range":["#ff0000","#008000","#000000","#800080","#ffff00","#ffa500","#0000ff","#ff00ff"]},"legend":null}}},
  {"data":{"values":[{}]},"mark":{"type":"text","align":"left","baseline":"middle","fontSize":16.5,"fontWeight":"bold","font":"DejaVu Sans","color":"#000"},
   "encoding":{"x":{"datum":151,"axis":{"values":[157.5,165,172.5,187.5,195,202.5,217.5,225,232.5,247.5,255,262.5,277.5,285,292.5,307.5,315,322.5,337.5,345,352.5],"labels":false,"grid":false,"title":null,"tickSize":3,"orient":"bottom"}},"y":{"datum":212},"text":{"value":"Tmin (50 - 90°S)"}}}
 ]},
{"width":991,"height":199,
 "resolve":{"axis":{"x":"independent"}},
 "layer":[
  {"data":{"name":"nat"},"mark":{"type":"line","strokeWidth":2.6,"clip":true},
   "encoding":{
    "x":{"field":"d","type":"quantitative","scale":{"domain":[150,363.5],"nice":false,"zero":false},"axis":{"values":[150,180,210,240,270,300,330,360],"labels":false,"title":null,"orient":"bottom"}},
    "y":{"field":"v","type":"quantitative","scale":{"domain":[-1.6,30.5],"nice":false,"zero":false},"axis":{"values":[0,10,20,30],"title":"Million Km²"}},
    "color":{"field":"y","type":"nominal","scale":{"domain":[2013,2014,2015,2016,2017,2018,2019,2020],"range":["#ff0000","#008000","#000000","#800080","#ffff00","#ffa500","#0000ff","#ff00ff"]},
     "legend":{"orient":"top-right","title":null,"symbolType":"M-1.4,0H1.4","symbolStrokeWidth":3.5,"symbolSize":484,"labelFontSize":15,"labelFontWeight":"bold","labelFont":"DejaVu Sans","labelColor":"#000","rowPadding":0,"offset":5,"labelOffset":16,"padding":4}}}},
  {"data":{"values":[{}]},"mark":{"type":"text","align":"left","baseline":"middle","fontSize":16.5,"fontWeight":"bold","font":"DejaVu Sans","color":"#000"},
   "encoding":{"x":{"datum":151,"axis":{"values":[157.5,165,172.5,187.5,195,202.5,217.5,225,232.5,247.5,255,262.5,277.5,285,292.5,307.5,315,322.5,337.5,345,352.5],"labels":false,"grid":false,"title":null,"tickSize":3,"orient":"bottom"}},"y":{"datum":26.8},"text":{"value":"PSC NAT area (460 K)"}}}
 ]},
{"width":991,"height":197,
 "resolve":{"axis":{"x":"independent"}},
 "layer":[
  {"data":{"values":[{}]},"mark":{"type":"rule","color":"#444","strokeWidth":1.5},"encoding":{"y":{"datum":0}}},
  {"data":{"name":"hf"},"transform":[{"filter":"datum.y != 2020"}],"mark":{"type":"line","strokeWidth":1,"clip":true},
   "encoding":{
    "x":{"field":"d","type":"quantitative","scale":{"domain":[150,363.5],"nice":false,"zero":false},"axis":{"values":[150,180,210,240,270,300,330,360],"title":"Day of the Year","titlePadding":3,"orient":"bottom"}},
    "y":{"field":"v","type":"quantitative","scale":{"domain":[-78,23.7],"nice":false,"zero":false},"axis":{"values":[-75,-50,-25,0],"title":"Kms⁻¹"}},
    "color":{"field":"y","type":"nominal","scale":{"domain":[2013,2014,2015,2016,2017,2018,2019,2020],"range":["#ff0000","#008000","#000000","#800080","#ffff00","#ffa500","#0000ff","#ff00ff"]},"legend":null}}},
  {"data":{"name":"hf"},"transform":[{"filter":"datum.y == 2020"}],"mark":{"type":"line","strokeWidth":3.5,"clip":true},
   "encoding":{
    "x":{"field":"d","type":"quantitative","axis":null},
    "y":{"field":"v","type":"quantitative"},
    "color":{"field":"y","type":"nominal","legend":null}}},
  {"data":{"values":[{}]},"mark":{"type":"text","align":"left","baseline":"middle","fontSize":16.5,"fontWeight":"bold","font":"DejaVu Sans","color":"#000"},
   "encoding":{"x":{"datum":151,"axis":{"values":[157.5,165,172.5,187.5,195,202.5,217.5,225,232.5,247.5,255,262.5,277.5,285,292.5,307.5,315,322.5,337.5,345,352.5],"labels":false,"grid":false,"title":null,"tickSize":3,"orient":"bottom"}},"y":{"datum":12.4},"text":{"value":"Heat Flux (100 hPa, 45-75°S)"}}},
  {"data":{"name":"months"},"mark":{"type":"text","align":"left","baseline":"middle","fontSize":16.5,"fontWeight":"bold","font":"DejaVu Sans","color":"#000"},
   "encoding":{"x":{"field":"d","type":"quantitative","axis":null},"y":{"datum":-66},"text":{"field":"m"}}},
  {"data":{"values":[{}]},"mark":{"type":"text","align":"center","baseline":"middle","fontSize":23,"font":"Liberation Serif","color":"#000"},
   "encoding":{"x":{"datum":356.3,"axis":null},"y":{"datum":-102.5},"text":{"value":"306"}}}
 ]}
]
}
